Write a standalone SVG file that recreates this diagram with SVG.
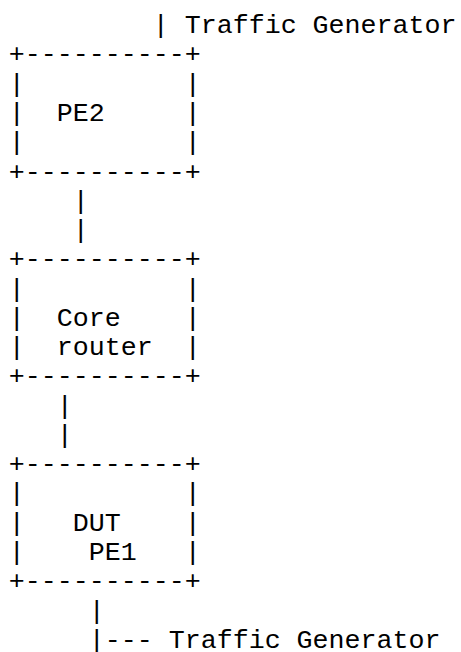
<svg xmlns="http://www.w3.org/2000/svg" width="461" height="652" viewBox="0 0 461 652">
<style>
text { font-family: "Liberation Mono", "Courier New", monospace; font-size: 26.67px; fill: #000; white-space: pre; }
</style>
<rect width="461" height="652" fill="#fff"/>
<g id="connectors">
<text x="8.7" y="33.1" xml:space="preserve">         | Traffic Generator</text>
<text x="8.7" y="208.7" xml:space="preserve">    |</text>
<text x="8.7" y="238.0" xml:space="preserve">    |</text>
<text x="8.7" y="413.6" xml:space="preserve">   |</text>
<text x="8.7" y="442.9" xml:space="preserve">   |</text>
<text x="8.7" y="618.5" xml:space="preserve">     |</text>
<text x="8.7" y="647.8" xml:space="preserve">     |--- Traffic Generator</text>
</g>
<g id="pe2">
<text x="8.7" y="62.4" xml:space="preserve">+----------+</text>
<text x="8.7" y="91.6" xml:space="preserve">|          |</text>
<text x="8.7" y="120.9" xml:space="preserve">|  PE2     |</text>
<text x="8.7" y="150.2" xml:space="preserve">|          |</text>
<text x="8.7" y="179.5" xml:space="preserve">+----------+</text>
</g>
<g id="core-router">
<text x="8.7" y="267.3" xml:space="preserve">+----------+</text>
<text x="8.7" y="296.5" xml:space="preserve">|          |</text>
<text x="8.7" y="325.8" xml:space="preserve">|  Core    |</text>
<text x="8.7" y="355.1" xml:space="preserve">|  router  |</text>
<text x="8.7" y="384.3" xml:space="preserve">+----------+</text>
</g>
<g id="dut-pe1">
<text x="8.7" y="472.2" xml:space="preserve">+----------+</text>
<text x="8.7" y="501.4" xml:space="preserve">|          |</text>
<text x="8.7" y="530.7" xml:space="preserve">|   DUT    |</text>
<text x="8.7" y="560.0" xml:space="preserve">|    PE1   |</text>
<text x="8.7" y="589.2" xml:space="preserve">+----------+</text>
</g>
</svg>
